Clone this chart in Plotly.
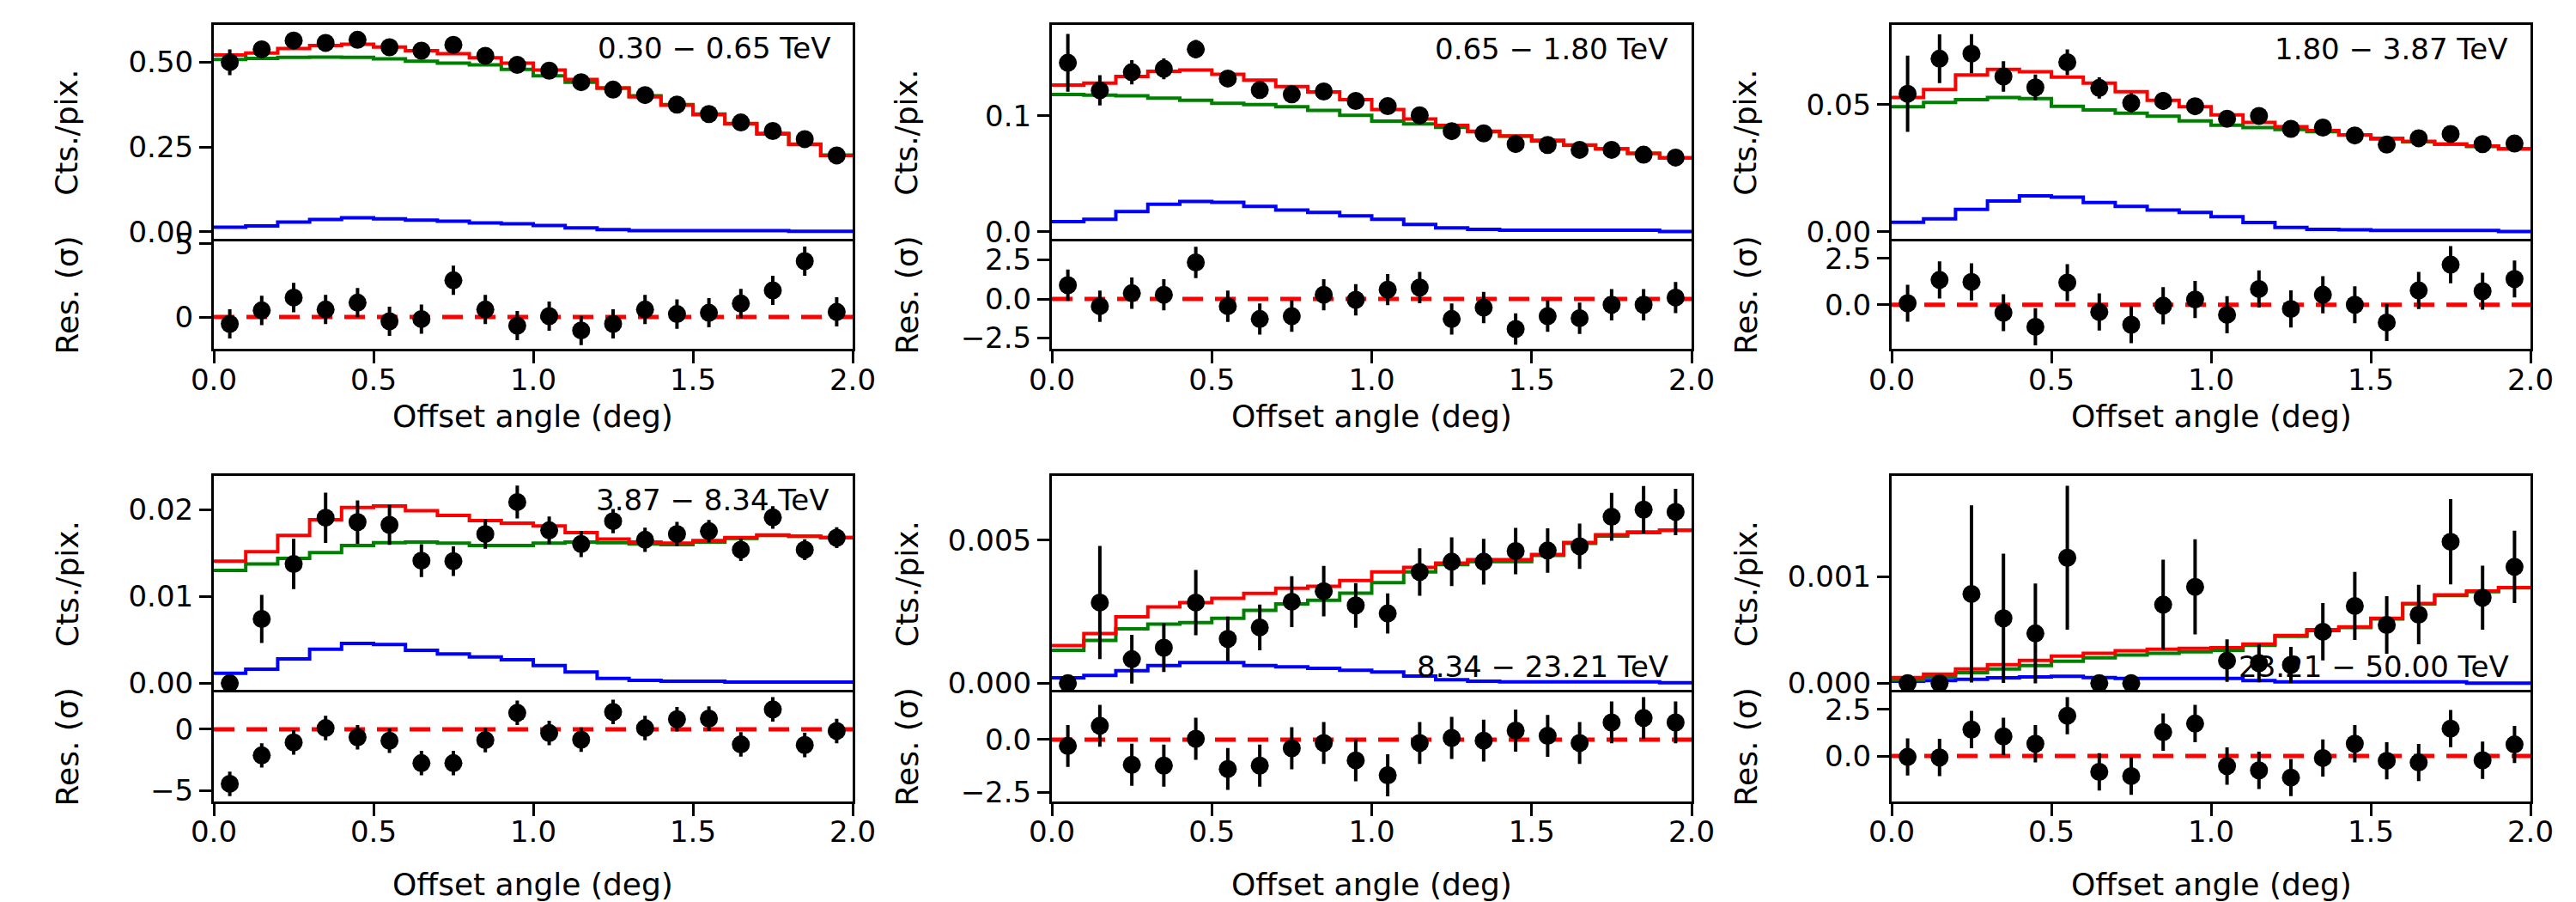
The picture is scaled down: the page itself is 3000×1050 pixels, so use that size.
import plotly.graph_objects as go

# ---------------- data ----------------
centers = [0.05, 0.15, 0.25, 0.35, 0.45, 0.55, 0.65, 0.75, 0.85, 0.95,
           1.05, 1.15, 1.25, 1.35, 1.45, 1.55, 1.65, 1.75, 1.85, 1.95]
edges = [0.0, 0.1, 0.2, 0.3, 0.4, 0.5, 0.6, 0.7, 0.8, 0.9, 1.0,
         1.1, 1.2, 1.3, 1.4, 1.5, 1.6, 1.7, 1.8, 1.9, 2.0]
x_ticks = [0.0, 0.5, 1.0, 1.5, 2.0]

energy_labels = ["0.30 \u2212 0.65 TeV", "0.65 \u2212 1.80 TeV", "1.80 \u2212 3.87 TeV",
                 "3.87 \u2212 8.34 TeV", "8.34 \u2212 23.21 TeV", "23.21 \u2212 50.00 TeV"]

p1_data = [0.500, 0.538, 0.564, 0.557, 0.566, 0.544, 0.534, 0.551, 0.519, 0.492,
           0.475, 0.441, 0.419, 0.403, 0.375, 0.347, 0.322, 0.297, 0.273, 0.225]
p1_err = [0.038, 0.020, 0.018, 0.016, 0.015, 0.014, 0.013, 0.012, 0.012, 0.012,
          0.011, 0.011, 0.011, 0.010, 0.010, 0.010, 0.010, 0.009, 0.009, 0.009]
p1_total = [0.521, 0.527, 0.540, 0.549, 0.553, 0.545, 0.534, 0.525, 0.513, 0.497,
            0.477, 0.449, 0.424, 0.398, 0.373, 0.345, 0.318, 0.288, 0.257, 0.225]
p1_bkg = [0.508, 0.511, 0.514, 0.515, 0.514, 0.510, 0.503, 0.497, 0.492, 0.479,
          0.460, 0.441, 0.424, 0.401, 0.375, 0.347, 0.319, 0.290, 0.258, 0.226]
p1_src = [0.013, 0.017, 0.028, 0.036, 0.041, 0.038, 0.034, 0.031, 0.026, 0.023,
          0.018, 0.011, 0.006, 0.003, 0.003, 0.003, 0.003, 0.003, 0.001, 0.001]
p1_res = [-0.47, 0.45, 1.33, 0.51, 0.98, -0.29, -0.14, 2.51, 0.51, -0.59,
          0.06, -0.92, -0.47, 0.51, 0.20, 0.29, 0.92, 1.82, 3.82, 0.35]

p2_data = [0.1459, 0.1221, 0.1377, 0.1407, 0.1576, 0.1323, 0.1223, 0.1186, 0.1211, 0.1129,
           0.1084, 0.1005, 0.0868, 0.0849, 0.0757, 0.0749, 0.0707, 0.0707, 0.0665, 0.0640]
p2_err = [0.025, 0.013, 0.0105, 0.009, 0.008, 0.007, 0.007, 0.006, 0.006, 0.006,
          0.006, 0.005, 0.005, 0.005, 0.005, 0.004, 0.004, 0.004, 0.004, 0.004]
p2_total = [0.1266, 0.1283, 0.1340, 0.1385, 0.1397, 0.1360, 0.1310, 0.1253, 0.1208, 0.1141,
            0.1055, 0.0973, 0.0918, 0.0868, 0.0826, 0.0789, 0.0749, 0.0715, 0.0677, 0.0638]
p2_bkg = [0.1184, 0.1179, 0.1174, 0.1154, 0.1134, 0.1109, 0.1097, 0.1079, 0.1047, 0.1005,
          0.0955, 0.0930, 0.0901, 0.0864, 0.0824, 0.0782, 0.0747, 0.0715, 0.0677, 0.0638]
p2_src = [0.0087, 0.0107, 0.0174, 0.0236, 0.0261, 0.0253, 0.0218, 0.0186, 0.0166, 0.0136,
          0.0107, 0.0062, 0.0032, 0.0020, 0.0012, 0.0012, 0.0012, 0.0012, 0.0012, 0.0002]
p2_res = [0.88, -0.46, 0.37, 0.27, 2.34, -0.46, -1.28, -1.10, 0.27, -0.05,
          0.60, 0.73, -1.28, -0.55, -1.92, -1.10, -1.23, -0.37, -0.37, 0.09]

p3_data = [0.0543, 0.0681, 0.0701, 0.0611, 0.0568, 0.0667, 0.0566, 0.0507, 0.0515, 0.0494,
           0.0445, 0.0456, 0.0405, 0.0410, 0.0379, 0.0343, 0.0368, 0.0385, 0.0345, 0.0347]
p3_err = [0.0150, 0.0096, 0.0077, 0.0060, 0.0051, 0.0051, 0.0042, 0.0038, 0.0035, 0.0033,
          0.0030, 0.0030, 0.0028, 0.0027, 0.0026, 0.0025, 0.0025, 0.0024, 0.0024, 0.0023]
p3_total = [0.0528, 0.0560, 0.0617, 0.0639, 0.0630, 0.0609, 0.0585, 0.0551, 0.0517, 0.0492,
            0.0460, 0.0430, 0.0413, 0.0398, 0.0381, 0.0368, 0.0356, 0.0345, 0.0337, 0.0326]
p3_bkg = [0.0492, 0.0509, 0.0520, 0.0528, 0.0524, 0.0494, 0.0479, 0.0467, 0.0455, 0.0436,
          0.0419, 0.0410, 0.0402, 0.0394, 0.0381, 0.0365, 0.0354, 0.0345, 0.0336, 0.0326]
p3_src = [0.0037, 0.0051, 0.0088, 0.0121, 0.0141, 0.0136, 0.0115, 0.0100, 0.0085, 0.0076,
          0.0059, 0.0036, 0.0017, 0.0009, 0.0008, 0.0005, 0.0005, 0.0005, 0.0005, 0.0001]
p3_res = [0.08, 1.34, 1.23, -0.43, -1.19, 1.19, -0.39, -1.08, -0.05, 0.28,
          -0.54, 0.85, -0.23, 0.54, 0.00, -0.96, 0.77, 2.16, 0.73, 1.39]

p4_data = [0.0, 0.00741, 0.01374, 0.01908, 0.01858, 0.01825, 0.01413, 0.01407, 0.01720, 0.02089,
           0.01763, 0.01605, 0.01868, 0.01654, 0.01720, 0.01753, 0.01539, 0.01911, 0.01539, 0.01677]
p4_err = [0.0, 0.00277, 0.0029, 0.0029, 0.0025, 0.0023, 0.0019, 0.0017, 0.0017, 0.0019,
          0.0016, 0.0015, 0.0014, 0.0014, 0.0014, 0.0013, 0.0013, 0.0013, 0.0012, 0.0012]
p4_total = [0.01407, 0.01516, 0.01703, 0.01885, 0.02026, 0.02043, 0.01990, 0.01934, 0.01875, 0.01845,
            0.01812, 0.01736, 0.01661, 0.01628, 0.01614, 0.01644, 0.01680, 0.01710, 0.01694, 0.01680]
p4_bkg = [0.01301, 0.01374, 0.01440, 0.01506, 0.01588, 0.01621, 0.01628, 0.01614, 0.01588, 0.01588,
          0.01614, 0.01628, 0.01621, 0.01605, 0.01598, 0.01628, 0.01670, 0.01703, 0.01694, 0.01680]
p4_src = [0.00115, 0.00161, 0.00280, 0.00392, 0.00458, 0.00445, 0.00379, 0.00336, 0.00303, 0.00270,
          0.00204, 0.00129, 0.00056, 0.00033, 0.00023, 0.00023, 0.00013, 0.00013, 0.00013, 0.00013]
p4_res = [-4.46, -2.14, -1.08, 0.09, -0.66, -0.94, -2.77, -2.77, -0.89, 1.34,
          -0.31, -0.85, 1.41, 0.09, 0.82, 0.87, -1.24, 1.62, -1.29, -0.14]

p5_data = [0.0, 0.00282, 0.00084, 0.00124, 0.00282, 0.00155, 0.00195, 0.00285, 0.00322, 0.00272,
           0.00244, 0.00389, 0.00425, 0.00425, 0.00462, 0.00464, 0.00479, 0.00582, 0.00607, 0.00599]
p5_err = [0.0, 0.00198, 0.00085, 0.00085, 0.00114, 0.00078, 0.00080, 0.00089, 0.00088, 0.00078,
          0.00070, 0.00083, 0.00085, 0.00080, 0.00081, 0.00078, 0.00079, 0.00084, 0.00083, 0.00081]
p5_total = [0.00132, 0.00174, 0.00232, 0.00267, 0.00282, 0.00297, 0.00314, 0.00332, 0.00339, 0.00359,
            0.00389, 0.00405, 0.00420, 0.00432, 0.00432, 0.00450, 0.00492, 0.00519, 0.00529, 0.00535]
p5_bkg = [0.00115, 0.00150, 0.00190, 0.00207, 0.00212, 0.00227, 0.00255, 0.00277, 0.00290, 0.00315,
          0.00352, 0.00389, 0.00415, 0.00425, 0.00425, 0.00447, 0.00489, 0.00515, 0.00527, 0.00535]
p5_src = [0.00019, 0.00027, 0.00044, 0.00062, 0.00072, 0.00072, 0.00062, 0.00057, 0.00052, 0.00045,
          0.00039, 0.00025, 0.00012, 0.00007, 0.00005, 0.00005, 0.00005, 0.00005, 0.00005, 0.00002]
p5_res = [-0.30, 0.66, -1.20, -1.24, 0.04, -1.40, -1.24, -0.41, -0.16, -0.99,
          -1.70, -0.16, 0.08, -0.05, 0.43, 0.18, -0.16, 0.82, 1.03, 0.82]

p6_data = [0.0, 0.0, 0.000839, 0.000610, 0.000468, 0.001180, 0.0, 0.0, 0.000739, 0.000906,
           0.000212, 0.000188, 0.000172, 0.000484, 0.000726, 0.000548, 0.000645, 0.001330, 0.000804, 0.001094]
p6_err = [0.0, 0.0, 0.000833, 0.000608, 0.000470, 0.000676, 0.0, 0.0, 0.000423, 0.000448,
          0.000200, 0.000180, 0.000170, 0.000270, 0.000320, 0.000270, 0.000280, 0.000400, 0.000300, 0.000340]
p6_total = [0.0000538, 0.000086, 0.000134, 0.000175, 0.000215, 0.000255, 0.000282, 0.000306, 0.000320, 0.000328,
            0.000333, 0.000368, 0.000449, 0.000503, 0.000530, 0.000610, 0.000750, 0.000830, 0.000866, 0.000900]
p6_bkg = [0.0000323, 0.000059, 0.0000995, 0.000134, 0.000167, 0.000207, 0.000239, 0.000266, 0.000282, 0.000296,
          0.000309, 0.000355, 0.000441, 0.000495, 0.000524, 0.000605, 0.000745, 0.000825, 0.000860, 0.000898]
p6_src = [0.0000188, 0.0000242, 0.0000376, 0.000051, 0.000059, 0.0000645, 0.0000538, 0.0000457, 0.0000457, 0.0000457,
          0.0000457, 0.0000242, 0.0000134, 0.0000134, 0.0000134, 0.0000134, 0.0000134, 0.0000134, 0.0, 0.0]
p6_res = [-0.05, -0.08, 1.42, 1.05, 0.66, 2.16, -0.85, -1.08, 1.28, 1.74,
          -0.54, -0.77, -1.16, -0.11, 0.66, -0.26, -0.35, 1.47, -0.23, 0.62]

panels = [
    (p1_data, p1_err, p1_total, p1_bkg, p1_src, p1_res),
    (p2_data, p2_err, p2_total, p2_bkg, p2_src, p2_res),
    (p3_data, p3_err, p3_total, p3_bkg, p3_src, p3_res),
    (p4_data, p4_err, p4_total, p4_bkg, p4_src, p4_res),
    (p5_data, p5_err, p5_total, p5_bkg, p5_src, p5_res),
    (p6_data, p6_err, p6_total, p6_bkg, p6_src, p6_res),
]

# ---------------- styling / layout ----------------
W, H = 3000, 1050
FONT = "DejaVu Sans"
TICK_SIZE = 34
TITLE_SIZE = 36
LABEL_SIZE = 34

col_px = [(241, 985), (1217, 1962), (2195, 2939)]
row_main_px = [(21, 272.7), (546, 798.3)]
row_res_px = [(272.7, 398.3), (798.3, 924.5)]
ylab_x_px = [70, 1048, 2025]
xtitle_y_px = [476, 1021]

main_ranges = [[-0.028, 0.61], [-0.0082, 0.1786], [-0.0037, 0.0814],
               [-0.00109, 0.0239], [-0.00033, 0.00725], [-0.0000887, 0.001949]]
main_dticks = [0.25, 0.1, 0.05, 0.01, 0.005, 0.001]
main_fmts = [".2f", ".1f", ".2f", ".2f", ".3f", ".3f"]
res_ranges = [[-2.19, 5.19], [-3.2, 3.7], [-2.39, 3.43],
              [-5.87, 2.99], [-2.93, 2.24], [-2.42, 3.40]]
res_dticks = [5, 2.5, 2.5, 5, 2.5, 2.5]
res_fmts = ["d", ".1f", ".1f", "d", ".1f", ".1f"]
label_pos_px = [(962, 48), (1937, 49), (2915, 49),
                (960, 574), (1937, 768), (2916, 768)]


def fx(px):
    return px / W


def fy(py):
    return 1 - py / H


fig = go.Figure()
layout = dict(
    template="none",
    width=W, height=H, margin=dict(l=0, r=0, t=0, b=0, pad=0, autoexpand=False),
    paper_bgcolor="white", plot_bgcolor="white", showlegend=False,
    font=dict(family=FONT, color="black", size=TICK_SIZE),
)
annotations = []

axis_common = dict(showline=True, linecolor="black", linewidth=3,
                   showgrid=False, zeroline=False, automargin=False,
                   tickfont=dict(family=FONT, size=TICK_SIZE, color="black"))

for i, (data, err, total, bkg, src, res) in enumerate(panels):
    r, c = divmod(i, 3)
    m = 2 * i + 1
    s = 2 * i + 2
    xm, ym, xs, ys = f"x{m}", f"y{m}", f"x{s}", f"y{s}"
    xdom = [fx(col_px[c][0]), fx(col_px[c][1])]

    # main panel traces
    for vals, col in ((src, "#0000ff"), (bkg, "#008000"), (total, "#ff0000")):
        fig.add_trace(go.Scatter(x=edges, y=vals + [vals[-1]], mode="lines",
                                 line=dict(color=col, width=4, shape="hv"),
                                 xaxis=xm, yaxis=ym, hoverinfo="skip"))
    fig.add_trace(go.Scatter(x=centers, y=data, mode="markers",
                             marker=dict(color="black", size=21),
                             error_y=dict(type="data", array=err, visible=True,
                                          color="black", thickness=4, width=0),
                             xaxis=xm, yaxis=ym))
    # residual traces
    fig.add_trace(go.Scatter(x=[edges[0], edges[-1]], y=[0, 0], mode="lines",
                             line=dict(color="#ff0000", width=5, dash="24px,14px"),
                             xaxis=xs, yaxis=ys, hoverinfo="skip"))
    fig.add_trace(go.Scatter(x=centers, y=res, mode="markers",
                             marker=dict(color="black", size=21),
                             error_y=dict(type="data", array=[1.0] * len(res), visible=True,
                                          color="black", thickness=4, width=0),
                             xaxis=xs, yaxis=ys))

    # main x axis: only its top border (bottom border is the residual's top)
    layout[f"xaxis{m}"] = dict(axis_common, domain=xdom, anchor=ym, range=[0, 2], side="top",
                               mirror=False, showticklabels=False, ticks="")
    layout[f"yaxis{m}"] = dict(axis_common, domain=[fy(row_main_px[r][1]), fy(row_main_px[r][0])],
                               anchor=xm, range=main_ranges[i], tick0=0, dtick=main_dticks[i],
                               mirror=True, tickformat=main_fmts[i], ticks="outside", ticklen=14,
                               tickwidth=3, tickcolor="black")
    layout[f"xaxis{s}"] = dict(axis_common, domain=xdom, anchor=ys, range=[0, 2], mirror=True,
                               tickvals=x_ticks, tickformat=".1f", ticks="outside",
                               ticklen=14, tickwidth=3, tickcolor="black",
                               ticklabelstandoff=-10)
    layout[f"yaxis{s}"] = dict(axis_common, domain=[fy(row_res_px[r][1]), fy(row_res_px[r][0])],
                               anchor=xs, range=res_ranges[i], tick0=0, dtick=res_dticks[i],
                               mirror=True, tickformat=res_fmts[i], ticks="outside", ticklen=14,
                               tickwidth=3, tickcolor="black")

    # energy label
    lx, ly = label_pos_px[i]
    annotations.append(dict(text=energy_labels[i], x=fx(lx), y=fy(ly), xref="paper", yref="paper",
                            xanchor="right", yanchor="middle", showarrow=False,
                            font=dict(family=FONT, size=LABEL_SIZE, color="black")))
    # y titles
    annotations.append(dict(text="Cts./pix.", x=fx(ylab_x_px[c]),
                            y=fy((row_main_px[r][0] + row_main_px[r][1]) / 2),
                            xref="paper", yref="paper", textangle=-90, showarrow=False,
                            xanchor="center", yanchor="middle",
                            font=dict(family=FONT, size=TITLE_SIZE, color="black")))
    annotations.append(dict(text="Res. (\u03c3)", x=fx(ylab_x_px[c]),
                            y=fy((row_res_px[r][0] + row_res_px[r][1]) / 2),
                            xref="paper", yref="paper", textangle=-90, showarrow=False,
                            xanchor="center", yanchor="middle",
                            font=dict(family=FONT, size=TITLE_SIZE, color="black")))
    # x title
    annotations.append(dict(text="Offset angle (deg)", x=(xdom[0] + xdom[1]) / 2,
                            y=fy(xtitle_y_px[r]), xref="paper", yref="paper",
                            showarrow=False, xanchor="center", yanchor="middle",
                            font=dict(family=FONT, size=TITLE_SIZE, color="black")))

layout["annotations"] = annotations
fig.update_layout(**layout)
fig.write_html("out.html")
